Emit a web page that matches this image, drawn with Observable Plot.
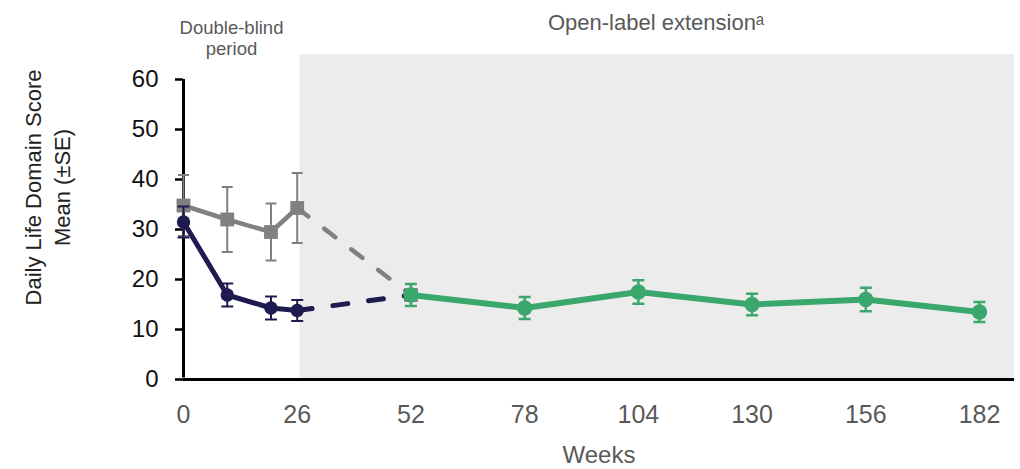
<!DOCTYPE html>
<html>
<head>
<meta charset="utf-8">
<script src="https://cdn.jsdelivr.net/npm/d3@7"></script>
<script src="https://cdn.jsdelivr.net/npm/@observablehq/plot@0.6"></script>
<style>
  html, body { margin: 0; padding: 0; background: #fff; }
  #chart svg { display: block; }
</style>
</head>
<body>
<div id="chart"></div>
<script>
// ---- data ----
const weeksDB = [0, 10, 20, 26];
const navyMean = [31.5, 16.9, 14.3, 13.8];
const navySE = [3.1, 2.3, 2.3, 2.1];
const grayMean = [34.8, 32.0, 29.5, 34.3];
const graySE = [6.1, 6.5, 5.7, 7.0];

const weeksOLE = [52, 78, 104, 130, 156, 182];
const greenMean = [16.9, 14.3, 17.5, 15.0, 16.0, 13.5];
const greenSE = [2.2, 2.2, 2.35, 2.15, 2.35, 2.0];

const xTicks = [0, 26, 52, 78, 104, 130, 156, 182];
const yTicks = [0, 10, 20, 30, 40, 50, 60];

const periodLabels = ["Double-blind\nperiod", "Open-label extension\u1D43"];
const xLabel = "Weeks";
const yLabel = "Daily Life Domain Score\nMean (\u00B1SE)";

// ---- build tables ----
const navy = weeksDB.map((w, i) => ({week: w, mean: navyMean[i], se: navySE[i]}));
const gray = weeksDB.map((w, i) => ({week: w, mean: grayMean[i], se: graySE[i]}));
const green = weeksOLE.map((w, i) => ({week: w, mean: greenMean[i], se: greenSE[i]}));
const firstOLE = green[0];
const navyBridge = [navy[navy.length - 1], firstOLE];
const grayBridge = [gray[gray.length - 1], firstOLE];
const grayAt52 = [{week: firstOLE.week, mean: firstOLE.mean}];

const NAVY = "#1f1b50", GRAY = "#808080", GREEN = "#3aa86c";
const FONT = "Liberation Sans, Arial, Helvetica, sans-serif";

const capSymbol = {
  draw(context, size) {
    const r = Math.sqrt(size / Math.PI);
    context.moveTo(-r, 0);
    context.lineTo(r, 0);
  }
};

function errorBars(data, color, capR, w) {
  return [
    Plot.ruleX(data, {x: "week", y1: d => d.mean - d.se, y2: d => d.mean + d.se, stroke: color, strokeWidth: w}),
    Plot.dot(data, {x: "week", y: d => d.mean + d.se, symbol: capSymbol, r: capR, stroke: color, strokeWidth: w, fill: "none"}),
    Plot.dot(data, {x: "week", y: d => d.mean - d.se, symbol: capSymbol, r: capR, stroke: color, strokeWidth: w, fill: "none"})
  ];
}

const chart = Plot.plot({
  width: 1020,
  height: 469,
  marginLeft: 183,
  marginRight: 6,
  marginTop: 54,
  marginBottom: 90,
  style: {fontFamily: FONT, background: "#fff"},
  x: {domain: [0, 190], axis: null},
  y: {domain: [0, 65], axis: null},
  marks: [
    // open-label shaded region
    Plot.rect([weeksDB[weeksDB.length - 1]], {x1: d => d, x2: 190, insetLeft: 3, fill: "#ececec"}),
    // y axis
    Plot.ruleX([0], {y1: 0, y2: d3.max(yTicks), stroke: "#000", strokeWidth: 3, insetTop: -1.5}),
    Plot.ruleY(yTicks, {y: d => d, x1: 0, x2: 0, insetLeft: -8, stroke: "#000", strokeWidth: 2.5}),
    Plot.text(yTicks, {x: 0, y: d => d, text: d => String(d), dx: -25, textAnchor: "end", fontSize: 24, fill: "#111", fontFamily: FONT}),
    // x axis
    Plot.ruleY([0], {stroke: "#000", strokeWidth: 3}),
    Plot.text(xTicks, {x: d => d, y: 0, text: d => String(d), dy: 35, fontSize: 25, fill: "#595959", fontFamily: FONT}),
    // gray series
    ...errorBars(gray, GRAY, 5.5, 2),
    Plot.line(grayBridge, {x: "week", y: "mean", stroke: GRAY, strokeWidth: 4.5, strokeDasharray: "14,20", strokeLinecap: "round"}),
    Plot.line(gray, {x: "week", y: "mean", stroke: GRAY, strokeWidth: 4.5}),
    Plot.dot(gray, {x: "week", y: "mean", symbol: "square", r: 7.8, fill: GRAY}),
    Plot.dot(grayAt52, {x: "week", y: "mean", symbol: "square", r: 7.8, fill: GRAY}),
    // navy series
    ...errorBars(navy, NAVY, 6, 2),
    Plot.line(navyBridge, {x: "week", y: "mean", stroke: NAVY, strokeWidth: 5, strokeDasharray: "15,21", strokeLinecap: "round"}),
    Plot.line(navy, {x: "week", y: "mean", stroke: NAVY, strokeWidth: 5}),
    Plot.dot(navy, {x: "week", y: "mean", r: 6.7, fill: NAVY}),
    // green series
    ...errorBars(green, GREEN, 6, 2.5),
    Plot.line(green, {x: "week", y: "mean", stroke: GREEN, strokeWidth: 6}),
    Plot.dot(green, {x: "week", y: "mean", r: 7.7, fill: GREEN}),
    // labels
    Plot.text([periodLabels[0]], {frameAnchor: "top-left", dx: 48, dy: -16.5, textAnchor: "middle", lineAnchor: "middle", lineHeight: 1.15, fontSize: 18.5, fill: "#595959", fontFamily: FONT}),
    Plot.text([periodLabels[1]], {frameAnchor: "top", dx: 57, dy: -32, textAnchor: "middle", lineAnchor: "middle", fontSize: 22, fill: "#595959", fontFamily: FONT}),
    Plot.text([xLabel], {frameAnchor: "bottom", dy: 76, textAnchor: "middle", lineAnchor: "middle", fontSize: 24, fill: "#595959", fontFamily: FONT}),
    Plot.text([yLabel], {frameAnchor: "left", rotate: -90, dx: -137.5, dy: -29.5, textAnchor: "middle", lineAnchor: "middle", lineHeight: 1.35, fontSize: 22, fill: "#222", fontFamily: FONT})
  ]
});
document.getElementById("chart").appendChild(chart);
</script>
</body>
</html>
